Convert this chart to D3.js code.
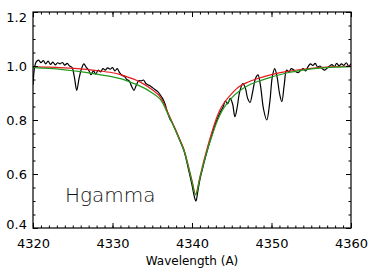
<!DOCTYPE html>
<html>
<head>
<meta charset="utf-8">
<script src="https://cdn.jsdelivr.net/npm/d3@7"></script>
<style>
  body { margin: 0; background: #fff; }
  svg { display: block; }
  .tick text { font-family: "DejaVu Sans", sans-serif; font-size: 13px; fill: #000; }
  .axis path { display: none; }
  .axis line { stroke: #000; stroke-width: 1; }
</style>
</head>
<body>
<svg id="chart"></svg>
<script>
// Tick labels
var xTickLabels = [4320, 4330, 4340, 4350, 4360]
var yTickLabels = ['0.4', '0.6', '0.8', '1.0', '1.2']

var specWave = [4320.0, 4320.2, 4320.4, 4320.7, 4321.0, 4321.3, 4321.6, 4321.9, 4322.2, 4322.5,
  4322.8, 4323.1, 4323.4, 4323.7, 4324.0, 4324.3, 4324.6, 4324.9, 4325.2, 4325.5,
  4325.8, 4326.1, 4326.4, 4326.7, 4327.0, 4327.3, 4327.6, 4327.9, 4328.2, 4328.5,
  4328.8, 4329.1, 4329.4, 4329.7, 4330.0, 4330.3, 4330.6, 4330.9, 4331.2, 4331.5,
  4331.8, 4332.1, 4332.4, 4332.7, 4333.0, 4333.3, 4333.6, 4333.9, 4334.2, 4334.5,
  4334.8, 4335.1, 4335.4, 4335.7, 4336.0, 4336.3, 4336.6, 4336.9, 4337.2, 4337.5,
  4338.0, 4338.5, 4339.0, 4339.5, 4340.0, 4340.3, 4340.5, 4340.7, 4341.0, 4341.5,
  4342.0, 4342.5, 4343.0, 4343.5, 4343.9, 4344.2, 4344.5, 4344.8, 4345.1, 4345.4,
  4345.7, 4346.0, 4346.4, 4346.7, 4347.0, 4347.3, 4347.6, 4348.0, 4348.3, 4348.6,
  4349.0, 4349.4, 4349.8, 4350.1, 4350.4, 4350.7, 4351.0, 4351.3, 4351.6, 4351.9,
  4352.2, 4352.5, 4352.8, 4353.1, 4353.4, 4353.7, 4354.0, 4354.3, 4354.6, 4354.9,
  4355.2, 4355.5, 4355.8, 4356.1, 4356.4, 4356.7, 4357.0, 4357.3, 4357.6, 4357.9,
  4358.2, 4358.5, 4358.8, 4359.1, 4359.4, 4359.7, 4360.0]
var specFlux = [0.93, 0.995, 1.015, 1.022, 1.012, 1.02, 1.008, 1.018, 1.006, 1.014,
  1.004, 1.012, 1.008, 1.013, 1.003, 1.01, 1.0, 0.995, 0.96, 0.91,
  0.955, 0.99, 1.008, 0.995, 0.985, 0.968, 0.982, 0.97, 0.985, 0.978,
  0.99, 0.985, 0.993, 0.988, 0.994, 0.982, 0.99, 0.975, 0.965, 0.962,
  0.95, 0.945, 0.925, 0.91, 0.93, 0.945, 0.945, 0.948, 0.935, 0.93,
  0.925, 0.918, 0.912, 0.905, 0.893, 0.88, 0.86, 0.83, 0.805, 0.79,
  0.757, 0.722, 0.685, 0.625, 0.56, 0.515, 0.5, 0.53, 0.58, 0.64,
  0.695, 0.745, 0.79, 0.825, 0.848, 0.87, 0.86, 0.88, 0.86, 0.812,
  0.85, 0.905, 0.935, 0.92, 0.88, 0.865, 0.9, 0.955, 0.967, 0.93,
  0.84, 0.8, 0.87, 0.96, 0.99, 0.96, 0.9, 0.868, 0.93, 0.985,
  0.978, 0.99, 0.985, 0.978, 0.976, 0.985, 0.99, 0.982, 0.998, 1.008,
  1.002, 1.01, 0.996, 1.0, 0.99, 0.985, 0.992, 1.0, 1.005, 0.998,
  1.01, 1.0, 1.008, 1.002, 1.012, 1.0, 1.008]

// Model profiles (red and green)
var modelWave = [4320, 4322, 4324, 4326, 4328, 4330, 4331, 4332, 4333, 4334,
  4335, 4336, 4337, 4337.5, 4338, 4338.5, 4339, 4339.5, 4340, 4340.45,
  4341, 4341.5, 4342, 4342.5, 4343, 4343.5, 4344, 4345, 4346, 4347,
  4348, 4350, 4352, 4354, 4356, 4358, 4360]
var redFlux = [0.997, 0.996, 0.993, 0.989, 0.983, 0.975, 0.968, 0.958, 0.947, 0.932,
  0.912, 0.886, 0.825, 0.793, 0.76, 0.726, 0.69, 0.635, 0.575, 0.525,
  0.59, 0.65, 0.705, 0.755, 0.8, 0.837, 0.862, 0.898, 0.925, 0.94,
  0.951, 0.968, 0.98, 0.988, 0.994, 0.998, 1.0]
var greenFlux = [0.994, 0.991, 0.986, 0.979, 0.97, 0.96, 0.953, 0.943, 0.932, 0.918,
  0.9, 0.877, 0.82, 0.79, 0.756, 0.722, 0.686, 0.632, 0.572, 0.522,
  0.586, 0.643, 0.695, 0.74, 0.783, 0.818, 0.845, 0.882, 0.908, 0.927,
  0.94, 0.959, 0.975, 0.985, 0.992, 0.996, 0.998]

var width = 371
var height = 273
var plotLeft = 33
var plotRight = 351
var plotTop = 12
var plotBottom = 228

var svg = d3.select('#chart').attr('width', width).attr('height', height)

var x = d3.scaleLinear().domain([4320, 4360]).range([plotLeft, plotRight])
var y = d3.scaleLinear().domain([0.4, 1.2]).range([plotBottom, plotTop])

svg.append('clipPath').attr('id', 'plotClip')
  .append('rect')
  .attr('x', plotLeft).attr('y', plotTop)
  .attr('width', plotRight - plotLeft).attr('height', plotBottom - plotTop)

function makeLine (waves, fluxes) {
  var pts = waves.map(function (w, i) { return [w, fluxes[i]] })
  return d3.line()
    .x(function (d) { return x(d[0]) })
    .y(function (d) { return y(d[1]) })
    .curve(d3.curveCatmullRom.alpha(0.5))(pts)
}

var plot = svg.append('g').attr('clip-path', 'url(#plotClip)')

plot.append('path')
  .attr('d', makeLine(specWave, specFlux))
  .attr('fill', 'none').attr('stroke', '#000').attr('stroke-width', 1.2)
plot.append('path')
  .attr('d', makeLine(modelWave, redFlux))
  .attr('fill', 'none').attr('stroke', '#e41a1c').attr('stroke-width', 1.2)
plot.append('path')
  .attr('d', makeLine(modelWave, greenFlux))
  .attr('fill', 'none').attr('stroke', '#1f9a1f').attr('stroke-width', 1.2)

// Minor ticks on all four sides (IDL style, pointing inward)
var xMinor = d3.range(4320, 4361, 1)
var yMinor = d3.range(0.4, 1.2001, 0.05)

svg.append('g').attr('class', 'axis')
  .attr('transform', 'translate(0,' + plotBottom + ')')
  .call(d3.axisBottom(x).tickValues(xMinor).tickSizeInner(-2.5).tickSizeOuter(0).tickFormat(''))
svg.append('g').attr('class', 'axis')
  .attr('transform', 'translate(0,' + plotTop + ')')
  .call(d3.axisTop(x).tickValues(xMinor).tickSizeInner(-2.5).tickSizeOuter(0).tickFormat(''))
svg.append('g').attr('class', 'axis')
  .attr('transform', 'translate(' + plotLeft + ',0)')
  .call(d3.axisLeft(y).tickValues(yMinor).tickSizeInner(-2.5).tickSizeOuter(0).tickFormat(''))
svg.append('g').attr('class', 'axis')
  .attr('transform', 'translate(' + plotRight + ',0)')
  .call(d3.axisRight(y).tickValues(yMinor).tickSizeInner(-2.5).tickSizeOuter(0).tickFormat(''))

// Major ticks and labels
svg.append('g').attr('class', 'axis')
  .attr('transform', 'translate(0,' + plotBottom + ')')
  .call(d3.axisBottom(x).tickValues(xTickLabels).tickSizeInner(-5).tickSizeOuter(0)
    .tickPadding(11).tickFormat(d3.format('d')))
svg.append('g').attr('class', 'axis')
  .attr('transform', 'translate(0,' + plotTop + ')')
  .call(d3.axisTop(x).tickValues(xTickLabels).tickSizeInner(-5).tickSizeOuter(0).tickFormat(''))

var yAxisG = svg.append('g').attr('class', 'axis')
  .attr('transform', 'translate(' + plotLeft + ',0)')
  .call(d3.axisLeft(y).tickValues(yTickLabels.map(Number)).tickSizeInner(-5).tickSizeOuter(0)
    .tickPadding(6).tickFormat(d3.format('.1f')))
// keep the end labels inside the frame, like the original
yAxisG.selectAll('.tick text').attr('dy', function (d) {
  if (d >= 1.2) return '0.75em'
  if (d <= 0.4) return '0.05em'
  return '0.32em'
})
svg.append('g').attr('class', 'axis')
  .attr('transform', 'translate(' + plotRight + ',0)')
  .call(d3.axisRight(y).tickValues(yTickLabels.map(Number)).tickSizeInner(-5).tickSizeOuter(0).tickFormat(''))

// Frame
svg.append('rect')
  .attr('x', plotLeft).attr('y', plotTop)
  .attr('width', plotRight - plotLeft).attr('height', plotBottom - plotTop)
  .attr('fill', 'none').attr('stroke', '#000').attr('stroke-width', 1.2)

// Axis title
svg.append('text')
  .attr('x', (plotLeft + plotRight) / 2)
  .attr('y', 265)
  .attr('text-anchor', 'middle')
  .style('font-family', '"DejaVu Sans", sans-serif')
  .style('font-size', '12px')
  .text('Wavelength (A)')

// Line label
svg.append('text')
  .attr('x', 65)
  .attr('y', 202)
  .style('font-family', '"DejaVu Sans", sans-serif')
  .style('font-size', '20px')
  .style('font-weight', 300)
  .attr('fill', '#111')
  .text('Hgamma')
</script>
</body>
</html>
